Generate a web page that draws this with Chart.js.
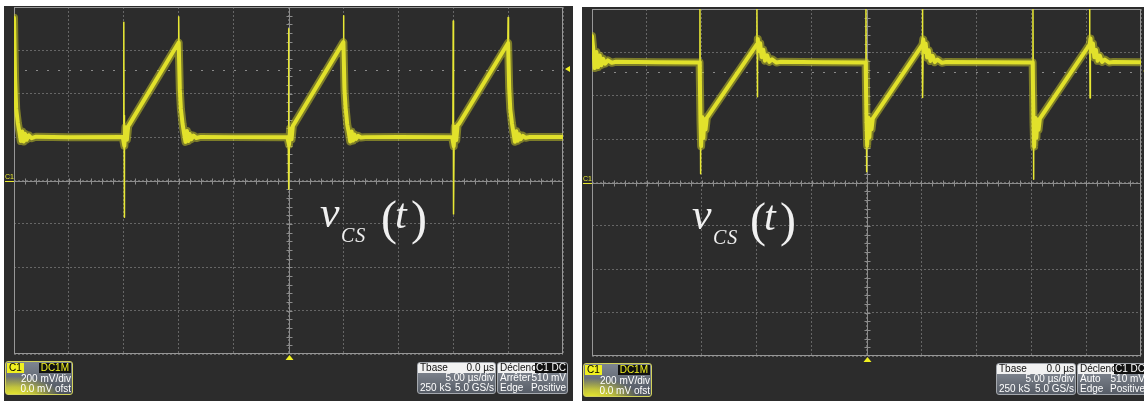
<!DOCTYPE html>
<html>
<head>
<meta charset="utf-8">
<script src="https://cdn.jsdelivr.net/npm/chart.js@4.4.0/dist/chart.umd.min.js"></script>
<style>
  html, body { margin: 0; padding: 0; background: #fff; }
  body { position: relative; width: 1144px; height: 401px; overflow: hidden;
         font-family: "Liberation Sans Narrow", "Liberation Sans", Arial, sans-serif; }
  .panel { position: absolute; background: #2c2c2c; }
  .panel canvas { position: absolute; left: 0; top: 0; }
  .gnd { position: absolute; width: 9px; height: 8px; font-size: 7px; line-height: 8px; color: #e8e830;
         border-bottom: 1px solid #e8e830; }
  .math { position: absolute; font-family: "Liberation Serif", "Times New Roman", serif; color: #f0f0f0;
          line-height: 1; white-space: nowrap; }
  .math i { font-style: italic; }
  .box { position: absolute; box-sizing: border-box; border: 1px solid #a4a8ae; border-radius: 3px; overflow: hidden;
         font-size: 10px; line-height: 10px; color: #fff; white-space: nowrap;
         background: linear-gradient(#8d939d, #565c66); }
  .box .row { position: relative; display: flex; justify-content: space-between; height: 10px; padding: 0 1px 0 2px; overflow: hidden; }
  .box .hdr { background: #f2f2f2; color: #111; }
  .chbox { border-color: #d2d25a;
           background: radial-gradient(ellipse 46px 20px at 8px 34px, #eded2c 0%, rgba(237,237,44,0.7) 45%, rgba(237,237,44,0) 100%),
                       linear-gradient(#7e8591, #4d535d); }
  .tag1 { position: absolute; left: 1px; top: 1px; background: #f0f020; color: #000; padding: 0 2px; height: 10px; }
  .tag2 { position: absolute; right: 1px; top: 1px; background: #111; color: #f0f020; padding: 0 2px; height: 10px; }
  .tag3 { position: absolute; right: 0; top: 0; height: 10px; background: #111; color: #fff; padding: 0 1px; }
</style>
</head>
<body>

<div class="panel" style="left:4px;top:6px;width:569px;height:395px">
  <canvas id="scopeLeft" width="569" height="395"></canvas>
</div>
<div class="panel" style="left:582px;top:7px;width:562px;height:394px">
  <canvas id="scopeRight" width="562" height="394"></canvas>
</div>

<!-- channel ground markers -->
<div class="gnd" style="left:5px;top:173px">C1</div>
<div class="gnd" style="left:583px;top:175px">C1</div>

<!-- v_CS(t) labels -->
<div class="math" style="left:320px;top:191px;font-size:44px"><i>v</i></div>
<div class="math" style="left:341px;top:225px;font-size:20px;letter-spacing:1px"><i>CS</i></div>
<div class="math" style="left:381px;top:194px;font-size:48px">(</div>
<div class="math" style="left:395px;top:193px;font-size:42px"><i>t</i></div>
<div class="math" style="left:411px;top:194px;font-size:48px">)</div>

<div class="math" style="left:692px;top:193px;font-size:44px"><i>v</i></div>
<div class="math" style="left:713px;top:227px;font-size:20px;letter-spacing:1px"><i>CS</i></div>
<div class="math" style="left:750px;top:196px;font-size:48px">(</div>
<div class="math" style="left:764px;top:195px;font-size:42px"><i>t</i></div>
<div class="math" style="left:780px;top:196px;font-size:48px">)</div>

<!-- left info boxes -->
<div class="box chbox" style="left:5px;top:361px;width:68px;height:34px">
  <span class="tag1">C1</span><span class="tag2">DC1M</span>
  <div class="row" style="margin-top:12px"><span></span><span>200 mV/div</span></div>
  <div class="row"><span></span><span>0.0 mV ofst</span></div>
</div>
<div class="box" style="left:417px;top:362px;width:79px;height:32px">
  <div class="row hdr"><span>Tbase</span><span>0.0 µs</span></div>
  <div class="row"><span></span><span>5.00 µs/div</span></div>
  <div class="row"><span>250 kS</span><span>5.0 GS/s</span></div>
</div>
<div class="box" style="left:497px;top:362px;width:71px;height:32px">
  <div class="row hdr"><span>Déclench</span><span class="tag3">C1 DC</span></div>
  <div class="row"><span>Arrêter</span><span>510 mV</span></div>
  <div class="row"><span>Edge</span><span>Positive</span></div>
</div>

<!-- right info boxes -->
<div class="box chbox" style="left:583px;top:363px;width:69px;height:34px">
  <span class="tag1">C1</span><span class="tag2">DC1M</span>
  <div class="row" style="margin-top:12px"><span></span><span>200 mV/div</span></div>
  <div class="row"><span></span><span>0.0 mV ofst</span></div>
</div>
<div class="box" style="left:996px;top:363px;width:80px;height:32px">
  <div class="row hdr"><span>Tbase</span><span>0.0 µs</span></div>
  <div class="row"><span></span><span>5.00 µs/div</span></div>
  <div class="row"><span>250 kS</span><span>5.0 GS/s</span></div>
</div>
<div class="box" style="left:1077px;top:363px;width:70px;height:32px">
  <div class="row hdr"><span>Déclench</span><span class="tag3">C1 DC</span></div>
  <div class="row"><span>Auto</span><span>510 mV</span></div>
  <div class="row"><span>Edge</span><span>Positive</span></div>
</div>

<script>
// time in µs (5 µs/div, 10 div), voltage in mV (200 mV/div)
const triggerLevel = 510;

// left capture: main trace [t, v]
const leftTrace = [
  [0.00, 750], [0.10, 470], [0.20, 330], [0.35, 265], [0.50, 222], [0.62, 182], [0.75, 226], [0.88, 180],
  [1.00, 216], [1.15, 188], [1.35, 208], [1.60, 195], [2.00, 202], [5.00, 199], [9.90, 201],
  [10.05, 160], [10.15, 245], [10.28, 188], [10.40, 250], [10.55, 262],
  [15.00, 636],
  [15.10, 420], [15.20, 330], [15.35, 262], [15.50, 214], [15.62, 178], [15.75, 228], [15.88, 182],
  [16.00, 214], [16.15, 190], [16.35, 207], [16.60, 196], [17.00, 201], [20.00, 200], [24.90, 199],
  [25.05, 165], [25.15, 240], [25.28, 190], [25.40, 252], [25.55, 264],
  [30.00, 638],
  [30.10, 415], [30.20, 335], [30.35, 258], [30.50, 218], [30.62, 180], [30.75, 226], [30.88, 184],
  [31.00, 212], [31.15, 192], [31.35, 206], [31.60, 198], [32.00, 200], [35.00, 201], [39.90, 200],
  [40.05, 158], [40.15, 248], [40.28, 186], [40.40, 254], [40.55, 263],
  [45.00, 634],
  [45.10, 425], [45.20, 328], [45.35, 264], [45.50, 216], [45.62, 179], [45.75, 227], [45.88, 183],
  [46.00, 213], [46.15, 191], [46.35, 206], [46.60, 197], [47.00, 201], [50.00, 200]
];

// left capture: switching spikes
const leftSpikes = [
  [[9.97, 205], [10.00, 730], [10.02, 300], [10.04, -170], [10.08, 170]],
  [[14.97, 625], [15.00, 755], [15.03, 600], [15.05, 430]],
  [[24.97, 205], [25.00, 700], [25.02, 290], [25.04, -40], [25.08, 175]],
  [[29.97, 628], [30.00, 760], [30.03, 600], [30.05, 425]],
  [[39.97, 205], [40.00, 735], [40.02, 295], [40.04, -155], [40.08, 170]],
  [[44.97, 624], [45.00, 752], [45.03, 598], [45.05, 430]]
];

// right capture: main trace [t, v]
const rightTrace = [
  [0.00, 675], [0.12, 612], [0.25, 528], [0.40, 602], [0.55, 532], [0.70, 586], [0.85, 541], [1.00, 571],
  [1.20, 548], [1.45, 563], [1.80, 552], [2.20, 557], [6.00, 554], [9.80, 553],
  [9.88, 280], [9.94, 168], [10.04, 302], [10.14, 205], [10.24, 292], [10.34, 244], [10.46, 298],
  [15.03, 638],
  [15.10, 662], [15.20, 605], [15.32, 642], [15.45, 578], [15.60, 612], [15.75, 562], [15.95, 586],
  [16.15, 556], [16.40, 568], [16.80, 553], [17.20, 557], [21.00, 554], [24.92, 553],
  [25.00, 282], [25.06, 170], [25.16, 300], [25.26, 208], [25.36, 290], [25.46, 246], [25.58, 296],
  [30.10, 636],
  [30.17, 660], [30.27, 602], [30.39, 640], [30.52, 576], [30.67, 610], [30.82, 560], [31.02, 584],
  [31.22, 555], [31.47, 567], [31.87, 552], [32.27, 556], [36.00, 554], [40.13, 553],
  [40.21, 278], [40.27, 165], [40.37, 298], [40.47, 206], [40.57, 290], [40.67, 243], [40.79, 295],
  [45.33, 637],
  [45.40, 664], [45.50, 604], [45.62, 641], [45.75, 577], [45.90, 611], [46.05, 561], [46.25, 585],
  [46.45, 556], [46.70, 567], [47.10, 553], [47.50, 556], [50.00, 554]
];

// right capture: switching spikes
const rightSpikes = [
  [[9.80, 553], [9.83, 810], [9.85, 560], [9.87, 40], [9.92, 190]],
  [[15.00, 632], [15.02, 810], [15.04, 640], [15.06, 395], [15.09, 625]],
  [[24.92, 553], [24.95, 810], [24.97, 560], [24.99, 50], [25.04, 200]],
  [[30.07, 630], [30.09, 810], [30.11, 640], [30.13, 392], [30.16, 622]],
  [[40.13, 553], [40.16, 810], [40.18, 560], [40.20, 15], [40.25, 195]],
  [[45.30, 632], [45.32, 810], [45.34, 640], [45.36, 390], [45.39, 624]]
];

// scope graticule: centre cross with ticks, trigger level, frame, yellow markers
const graticule = {
  id: 'graticule',
  beforeDatasetsDraw(chart, args, opts) {
    const {ctx, chartArea: a, scales: {x, y}} = chart;
    const cx = Math.round(x.getPixelForValue(25)) + 0.5;
    const cy = Math.round(y.getPixelForValue(0)) + 0.5;
    ctx.save();
    ctx.strokeStyle = '#8c8c8c';
    ctx.lineWidth = 1;
    ctx.beginPath();
    ctx.moveTo(a.left, cy); ctx.lineTo(a.right, cy);
    ctx.moveTo(cx, a.top); ctx.lineTo(cx, a.bottom);
    for (let t = 1; t < 50; t++) {
      const px = Math.round(x.getPixelForValue(t)) + 0.5;
      ctx.moveTo(px, cy - 3); ctx.lineTo(px, cy + 3);
    }
    for (let v = -760; v < 800; v += 40) {
      const py = Math.round(y.getPixelForValue(v)) + 0.5;
      ctx.moveTo(cx - 3, py); ctx.lineTo(cx + 3, py);
    }
    ctx.stroke();
    // trigger level dots
    const ty = Math.round(y.getPixelForValue(opts.trigger));
    ctx.fillStyle = '#8a8a8a';
    for (let t = 1; t < 50; t++) {
      ctx.fillRect(Math.round(x.getPixelForValue(t)), ty, 2, 1);
    }
    ctx.strokeStyle = '#979797';
    ctx.strokeRect(a.left + 0.5, a.top + 0.5, a.right - a.left - 1, a.bottom - a.top - 1);
    ctx.restore();
  },
  afterDraw(chart, args, opts) {
    const {ctx, chartArea: a, scales: {x, y}} = chart;
    const ty = Math.round(y.getPixelForValue(opts.trigger)) - 1;
    const cx = Math.round(x.getPixelForValue(25)) + 0.5;
    ctx.save();
    ctx.fillStyle = '#f0f020';
    ctx.beginPath();
    ctx.moveTo(a.right + 2, ty); ctx.lineTo(a.right + 7, ty - 3); ctx.lineTo(a.right + 7, ty + 3);
    ctx.closePath();
    ctx.moveTo(cx, a.bottom + 1); ctx.lineTo(cx - 4, a.bottom + 6); ctx.lineTo(cx + 4, a.bottom + 6);
    ctx.closePath();
    ctx.fill();
    ctx.restore();
  }
};

function toXY(pts) {
  return pts.map(p => ({x: p[0], y: p[1]}));
}

function scopeChart(id, trace, spikes, pad) {
  // each spike ends with a null point so they are not joined
  const spikeData = spikes.flatMap(s => toXY(s).concat([{x: s[s.length - 1][0], y: null}]));
  const gridStyle = {color: '#666666', lineWidth: 1, drawTicks: false};
  return new Chart(document.getElementById(id), {
    type: 'line',
    data: {
      datasets: [
        {data: toXY(trace), borderColor: 'rgba(205,205,38,0.5)', borderWidth: 8, clip: 0},
        {data: toXY(trace), borderColor: '#f4f430', borderWidth: 4, clip: 0},
        {data: spikeData, borderColor: '#e8e834', borderWidth: 1.5, clip: 0, spanGaps: false}
      ]
    },
    options: {
      responsive: false,
      animation: false,
      events: [],
      layout: {padding: pad, autoPadding: false},
      elements: {
        point: {radius: 0},
        line: {tension: 0, borderJoinStyle: 'round', borderCapStyle: 'round', fill: false}
      },
      plugins: {
        legend: {display: false},
        tooltip: {enabled: false},
        graticule: {trigger: triggerLevel}
      },
      scales: {
        x: {type: 'linear', min: 0, max: 50, ticks: {display: false, stepSize: 5},
            grid: gridStyle, border: {display: false, dash: [2, 2]}},
        y: {type: 'linear', min: -800, max: 800, ticks: {display: false, stepSize: 200},
            grid: gridStyle, border: {display: false, dash: [2, 2]}}
      }
    },
    plugins: [graticule]
  });
}

scopeChart('scopeLeft', leftTrace, leftSpikes, {left: 10, top: 1, right: 10, bottom: 47});
scopeChart('scopeRight', rightTrace, rightSpikes, {left: 10, top: 2, right: 3, bottom: 45});
</script>
</body>
</html>
